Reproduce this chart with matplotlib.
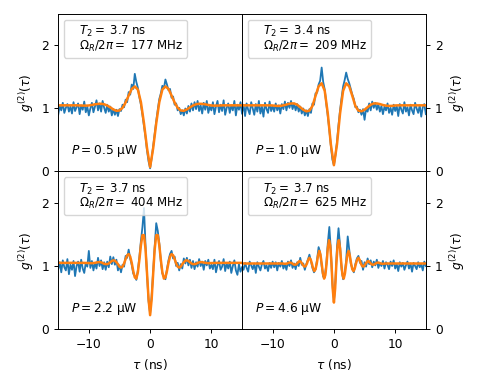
import numpy as np
import matplotlib
matplotlib.use("Agg")
import matplotlib.pyplot as plt
from matplotlib.lines import Line2D

# measured g2 histograms, 0.25 ns bins from -15 to 15 ns
tau = np.linspace(-15, 15, 121)

g2_05 = [0.90, 1.04, 0.97, 1.09, 0.93, 1.01, 1.07, 0.95, 1.03, 0.92, 1.10, 0.96, 1.02, 1.08, 0.91, 1.05, 0.98, 1.11, 0.94, 1.03, 0.89,
         1.00, 1.09, 0.94, 1.03, 1.13, 0.97, 1.08, 0.95, 1.12, 1.01, 0.93, 1.06, 0.95, 1.03, 0.89, 0.99, 0.90, 0.98, 0.88, 0.99,
         0.96, 1.06, 1.02, 1.14, 1.10, 1.26, 1.22, 1.38, 1.31, 1.55, 1.42, 1.33, 1.18, 1.06, 0.90, 0.72, 0.55, 0.33, 0.16,
         0.05,
         0.21, 0.40, 0.60, 0.80, 0.98, 1.15, 1.24, 1.36, 1.32, 1.46, 1.38, 1.29, 1.31, 1.17, 1.19, 1.06, 1.08, 0.97, 1.01,
         0.91, 0.97, 0.89, 1.00, 0.92, 1.04, 0.95, 1.08, 0.97, 1.10, 0.99, 1.12, 0.96, 1.05, 0.92, 1.09, 0.98, 1.12, 0.93, 1.03,
         0.97, 1.10, 0.91, 1.03, 1.12, 0.94, 1.06, 0.96, 1.13, 0.90, 1.01, 1.08, 0.93, 1.05, 0.97, 1.12, 0.89, 1.06, 0.98, 1.10, 0.92]

g2_10 = [0.93, 1.06, 0.88, 1.08, 0.98, 0.91, 1.10, 1.00, 0.90, 1.07, 0.95, 1.12, 0.92, 1.03, 0.87, 1.09, 0.99, 0.93, 1.11, 0.96, 1.04,
         0.95, 1.08, 0.97, 1.05, 0.92, 1.07, 0.99, 1.11, 0.97, 1.09, 1.01, 1.12, 0.99, 1.08, 0.97, 1.07, 0.95, 1.03,
         0.92, 1.00, 0.89, 0.97, 0.88, 0.99, 0.93, 1.08, 1.06, 1.24, 1.25, 1.38, 1.44, 1.65, 1.42, 1.30, 1.08, 0.88, 0.66, 0.41, 0.19,
         0.10,
         0.26, 0.47, 0.74, 0.97, 1.17, 1.35, 1.45, 1.57, 1.47, 1.40, 1.31, 1.22, 1.15, 1.02, 1.03, 0.94, 0.98, 0.90, 0.99,
         0.82, 1.00, 0.95, 1.08, 0.97, 1.11, 1.01, 1.09, 0.98, 1.07, 0.95, 1.04, 0.91, 1.03, 0.97, 1.08, 0.93, 1.01, 0.90, 1.06,
         0.96, 1.04, 0.88, 1.07, 0.98, 0.92, 1.10, 0.95, 1.02, 0.89, 1.06, 0.97, 0.91, 1.09, 1.00, 0.93, 1.05, 0.87, 1.02, 1.07, 0.91]

g2_22 = [0.95, 1.06, 0.90, 1.09, 0.98, 0.93, 1.11, 0.87, 1.02, 0.94, 1.08, 0.84, 1.00, 1.07, 0.91, 1.10, 0.96, 0.89, 1.05, 0.99, 1.24,
         0.97, 1.08, 0.93, 1.05, 0.96, 1.13, 1.00, 1.09, 0.95, 1.06, 0.94, 1.07, 0.98, 1.15, 1.03, 1.14, 1.02, 1.10, 0.93, 1.01,
         0.90, 1.02, 0.99, 1.16, 1.13, 1.26, 1.12, 1.02, 0.88, 0.84, 0.78, 0.93, 1.14, 1.40, 1.62, 1.92, 1.33, 0.86, 0.44,
         0.25,
         0.52, 0.92, 1.31, 1.68, 1.56, 1.36, 1.07, 0.88, 0.83, 0.79, 0.95, 1.09, 1.19, 1.24, 1.12, 1.15, 1.00, 1.05, 0.93, 1.03,
         0.96, 1.12, 1.04, 1.13, 1.01, 1.10, 0.97, 1.08, 0.95, 1.06, 0.99, 1.11, 1.00, 1.07, 0.94, 1.08, 1.01, 1.10, 0.96,
         1.02, 0.95, 1.10, 0.90, 1.01, 1.08, 0.94, 0.99, 1.11, 0.92, 1.04, 0.96, 1.07, 0.89, 1.00, 1.09, 0.93, 0.86, 1.03, 0.91, 0.98]

g2_46 = [1.00, 0.94, 1.05, 0.97, 0.91, 1.07, 1.01, 0.95, 1.04, 0.89, 1.06, 0.99, 0.93, 1.03, 1.08, 0.96, 1.01, 0.92, 1.05, 0.97, 1.07,
         0.98, 1.06, 0.93, 1.05, 0.99, 1.08, 0.96, 1.03, 0.94, 1.07, 1.00, 1.09, 0.97, 1.04, 0.95, 1.06, 1.00, 1.13, 1.02, 1.04,
         0.94, 1.03, 1.10, 1.18, 1.08, 0.97, 0.90, 0.95, 1.10, 1.30, 1.22, 1.00, 0.83, 0.82, 1.02, 1.36, 1.62, 1.25, 0.72,
         0.44,
         0.78, 1.30, 1.60, 1.33, 0.95, 0.79, 0.88, 1.09, 1.47, 1.26, 1.04, 0.96, 0.90, 1.03, 1.12, 1.16, 1.05, 1.08, 0.94, 1.06,
         0.99, 1.12, 1.03, 1.09, 0.98, 1.07, 1.01, 1.10, 0.97, 1.05, 1.00, 1.08, 0.96, 1.06, 1.02, 0.95, 1.07, 1.00, 1.09,
         0.96, 1.03, 0.92, 1.06, 0.99, 1.05, 0.94, 1.01, 1.07, 0.96, 1.04, 0.91, 1.05, 1.00, 0.95, 1.06, 0.98, 1.03, 0.93, 1.07, 1.00]

# fitted curves
half12 = np.r_[np.arange(0, 10.01, 0.5), 10.5, 11, 12, 15]
fit_tau_12 = np.r_[-half12[::-1], half12[1:]]
fit_05 = [1.05, 1.05, 1.046, 1.045, 1.048, 1.056, 1.066, 1.073, 1.075, 1.067, 1.047, 1.018, 0.985, 0.963, 0.968, 1.011,
          1.095, 1.205, 1.31, 1.35, 1.30, 1.10, 0.765, 0.37,
          0.07,
          0.37, 0.765, 1.10, 1.30, 1.35, 1.31, 1.205, 1.095, 1.011, 0.968, 0.963, 0.985, 1.018, 1.047, 1.067, 1.075,
          1.073, 1.066, 1.056, 1.048, 1.045, 1.046, 1.05, 1.05]
fit_10 = [1.05, 1.05, 1.05, 1.05, 1.048, 1.042, 1.04, 1.045, 1.055, 1.07, 1.08, 1.08, 1.06, 1.02, 0.98, 0.955,
          0.965, 1.04, 1.20, 1.35, 1.40, 1.28, 0.92, 0.43,
          0.10,
          0.43, 0.92, 1.28, 1.40, 1.35, 1.20, 1.04, 0.965, 0.955, 0.98, 1.02, 1.06, 1.08, 1.08, 1.07, 1.055,
          1.045, 1.04, 1.042, 1.048, 1.05, 1.05, 1.05, 1.05]

half3 = np.r_[np.arange(0, 9.01, 0.25), 9.5, 10, 11, 12, 15]
fit_tau_3 = np.r_[-half3[::-1], half3[1:]]
fit_22 = [1.05, 1.05, 1.05, 1.047, 1.045,
          1.05, 1.056, 1.06, 1.062, 1.058, 1.048, 1.035, 1.03, 1.03, 1.04, 1.06, 1.08, 1.09, 1.085, 1.06, 1.03, 0.99,
          0.975, 0.99, 1.04, 1.11, 1.17, 1.19, 1.15, 1.05, 0.92, 0.82, 0.80, 0.90, 1.10, 1.33, 1.49, 1.49, 1.27, 0.88, 0.47,
          0.22,
          0.47, 0.88, 1.27, 1.49, 1.49, 1.33, 1.10, 0.90, 0.80, 0.82, 0.92, 1.05, 1.15, 1.19, 1.17, 1.11, 1.04, 0.99,
          0.975, 0.99, 1.03, 1.06, 1.085, 1.09, 1.08, 1.06, 1.04, 1.03, 1.03, 1.035, 1.048, 1.058, 1.062, 1.06, 1.056, 1.05,
          1.045, 1.047, 1.05, 1.05, 1.05]

half4 = np.r_[np.arange(0, 7.61, 0.2), 8.0, 8.4, 9, 10, 12, 15]
fit_tau_4 = np.r_[-half4[::-1], half4[1:]]
fit_46 = [1.04, 1.04, 1.04, 1.04, 1.04, 1.035,
          1.04, 1.051, 1.055, 1.051, 1.04, 1.026, 1.02, 1.024, 1.04, 1.063, 1.08, 1.066, 1.04, 1.008, 0.99, 1.001, 1.04,
          1.097, 1.13, 1.104, 1.04, 0.962, 0.92, 0.948, 1.04, 1.16, 1.24, 1.181, 1.04, 0.884, 0.80, 0.856, 1.04, 1.28,
          1.41, 1.323, 1.04, 0.644,
          0.42,
          0.644, 1.04, 1.323, 1.41, 1.28, 1.04, 0.856, 0.80, 0.884, 1.04, 1.181, 1.24, 1.16, 1.04, 0.948, 0.92, 0.962,
          1.04, 1.104, 1.13, 1.097, 1.04, 1.001, 0.99, 1.008, 1.04, 1.066, 1.08, 1.063, 1.04, 1.024, 1.02, 1.026, 1.04,
          1.051, 1.055, 1.051, 1.04,
          1.035, 1.04, 1.04, 1.04, 1.04, 1.04]

powers = ['0.5', '1.0', '2.2', '4.6']
T2 = ['3.7', '3.4', '3.7', '3.7']
rabi = ['177', '209', '404', '625']
data = [g2_05, g2_10, g2_22, g2_46]
fits = [(fit_tau_12, fit_05), (fit_tau_12, fit_10), (fit_tau_3, fit_22), (fit_tau_4, fit_46)]

fs = 8.8
plt.rcParams['axes.linewidth'] = 0.7
plt.rcParams['xtick.major.width'] = 0.7
plt.rcParams['ytick.major.width'] = 0.7
plt.rcParams['xtick.major.size'] = 3.1
plt.rcParams['ytick.major.size'] = 3.1

fig, axs = plt.subplots(2, 2, sharex=True, sharey=True, figsize=(4.85, 3.88), dpi=100)
fig.subplots_adjust(left=0.12, right=0.878, top=0.964, bottom=0.152, wspace=0, hspace=0)

for k, ax in enumerate(axs.flat):
    ax.plot(tau, data[k], color='C0', lw=1.3)
    ax.plot(fits[k][0], fits[k][1], color='C1', lw=1.8)
    ax.set_xlim(-15, 15)
    ax.set_ylim(0, 2.5)
    ax.set_yticks([0, 1, 2])
    ax.set_xticks([-10, 0, 10])
    ax.tick_params(labelsize=fs)
    label = '$T_2 = $ ' + T2[k] + ' ns\n$\\Omega_R/2\\pi = $ ' + rabi[k] + ' MHz'
    leg = ax.legend([Line2D([], [], ls='none')], [label], loc='upper left', fontsize=8.5,
                    handlelength=0, handletextpad=0.9, borderpad=0.35, framealpha=0.8)
    leg.get_texts()[0].set_linespacing(0.95)
    ax.text(0.07, 0.13, '$P = ' + powers[k] + '$ μW', transform=ax.transAxes,
            fontsize=fs, va='center', ha='left')
    col = k % 2
    row = k // 2
    if col == 0:
        ax.set_ylabel('$g^{(2)}(\\tau)$', fontsize=fs)
    else:
        ax.tick_params(axis='y', left=False, labelleft=False, right=True, labelright=True)
        ax.yaxis.set_label_position('right')
        ax.set_ylabel('$g^{(2)}(\\tau)$', fontsize=fs)
    if row == 0:
        ax.tick_params(axis='x', bottom=False, labelbottom=False)
    else:
        ax.set_xlabel('$\\tau$ (ns)', fontsize=fs)

plt.savefig('out.png', dpi=100)
